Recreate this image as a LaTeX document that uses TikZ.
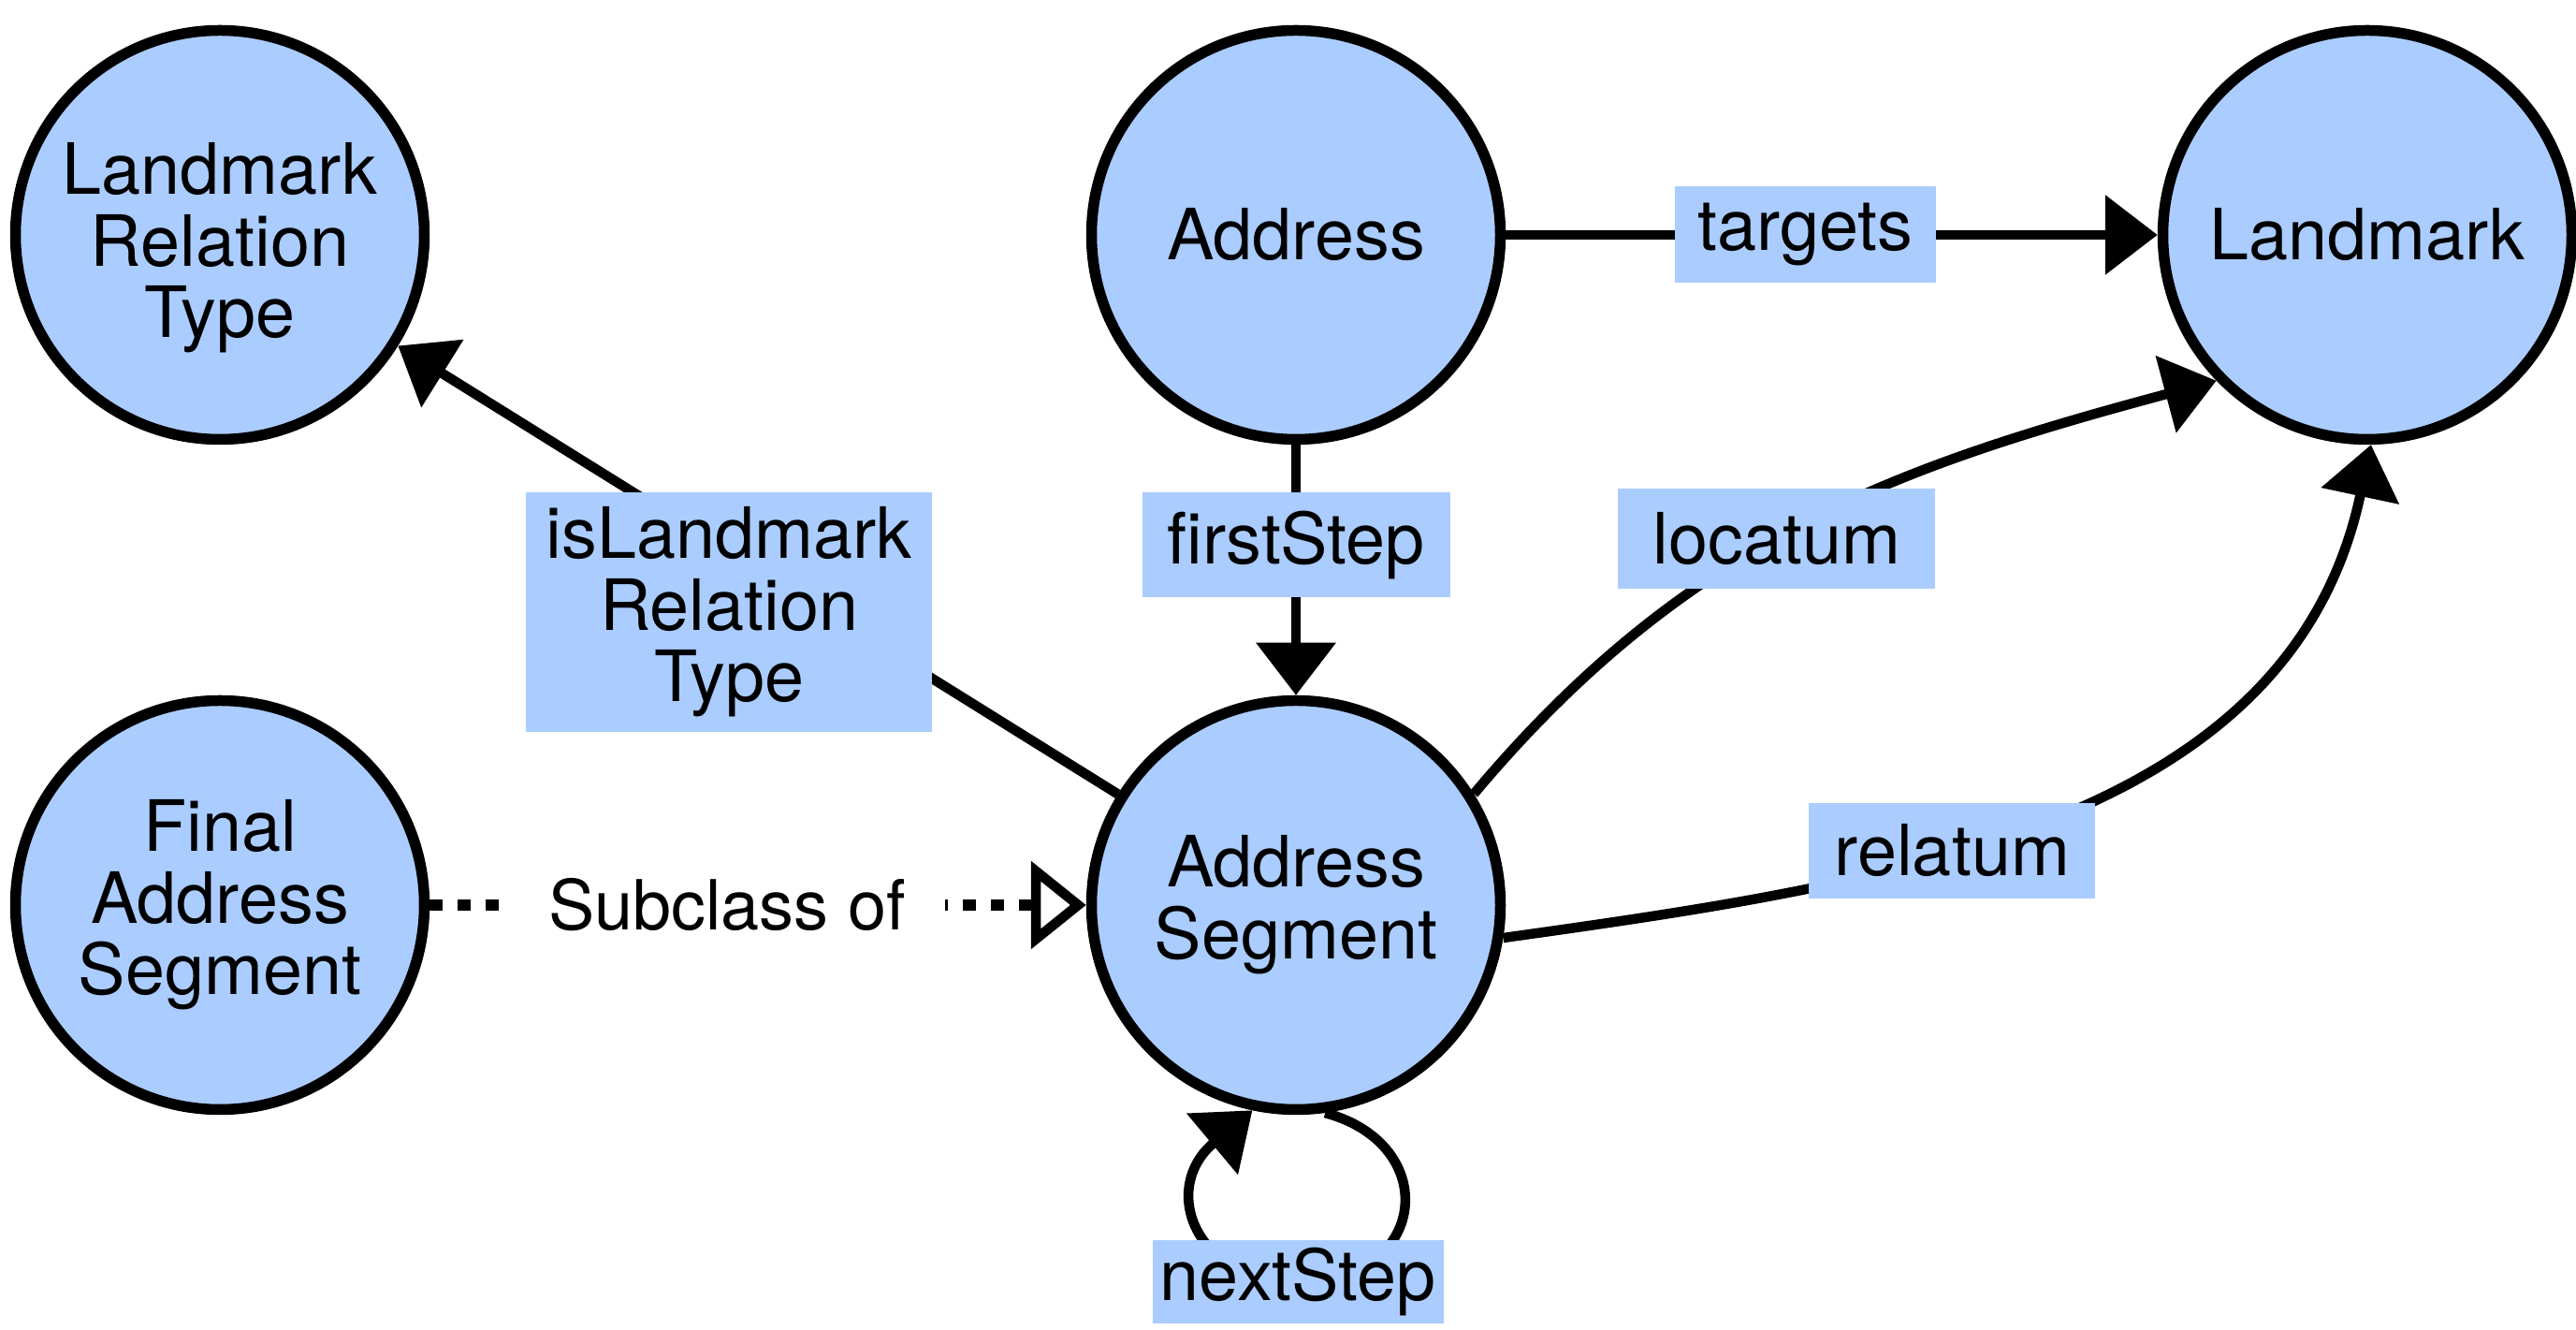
\documentclass[tikz,border=0pt]{standalone}
\usepackage{fontspec}
\setmainfont{TeX Gyre Heros}
\usetikzlibrary{arrows.meta}
\definecolor{conceptblue}{RGB}{170,204,255}

\begin{document}
\begin{tikzpicture}[
    concept/.style={circle, draw, line width=1.15mm, fill=conceptblue, minimum size=4.37cm, inner sep=0pt, align=center},
    relation/.style={line width=1.05mm, -{Triangle[length=5.6mm,width=8.3mm]}},
    subclass/.style={line width=1.15mm, dash pattern=on 1.4mm off 1.6mm, -{Triangle[open,length=5.9mm,width=9.2mm,line width=1.05mm]}},
    rellabel/.style={fill=conceptblue, inner sep=0pt, align=center},
    font=\fontsize{21.5pt}{21.8pt}\selectfont
  ]
    \useasboundingbox (0,0) rectangle (27.53,14.21);

    \node[concept] (lrt) at (2.35,11.70) {\rule{0pt}{1.1em}Landmark\\Relation\\Type};
    \node[concept] (addr) at (13.85,11.70) {Address};
    \node[concept] (lm) at (25.30,11.70) {Landmark};
    \node[concept] (fas) at (2.35,4.54) {Final\\Address\\Segment};
    \node[concept] (as) at (13.85,4.54) {Address\\Segment};

    \draw[relation] (addr) -- node[rellabel, pos=.46, minimum width=2.79cm, minimum height=1.03cm] (targetslbl) {targets} (lm);
    \draw[relation] (addr) -- node[rellabel, pos=.40, minimum width=3.29cm, minimum height=1.12cm] (firststeplbl) {firstStep} (as);
    \draw[relation] (as) -- node[rellabel, pos=.54, yshift=-6.4mm, minimum width=4.34cm, minimum height=2.56cm] (islrtlbl) {isLandmark\\Relation\\Type} (lrt);

    \draw[relation] (as.32) to[out=50, in=195] node[rellabel, pos=.46, minimum width=3.39cm, minimum height=1.07cm] (locatumlbl) {locatum} (lm.224);
    \draw[relation] (as.-9) to[out=8, in=258] node[rellabel, pos=.40, minimum width=3.06cm, minimum height=1.02cm] (relatumlbl) {relatum} (lm.-89);

    \coordinate (nextbend) at (13.87,0.51);
    \draw[relation] (as.-82) .. controls +(-15:1.3) and +(0:1.4) .. (nextbend) node[rellabel, minimum width=3.11cm, minimum height=0.89cm] (nextsteplbl) {nextStep} .. controls +(180:1.1) and +(-140:1.3) .. (as.-102);

    \draw[subclass] (fas) -- node[fill=white, pos=.453, inner xsep=4.2mm] (subclasslbl) {\fontsize{21pt}{21.5pt}\selectfont Subclass of} (as);

\end{tikzpicture}
\end{document}
